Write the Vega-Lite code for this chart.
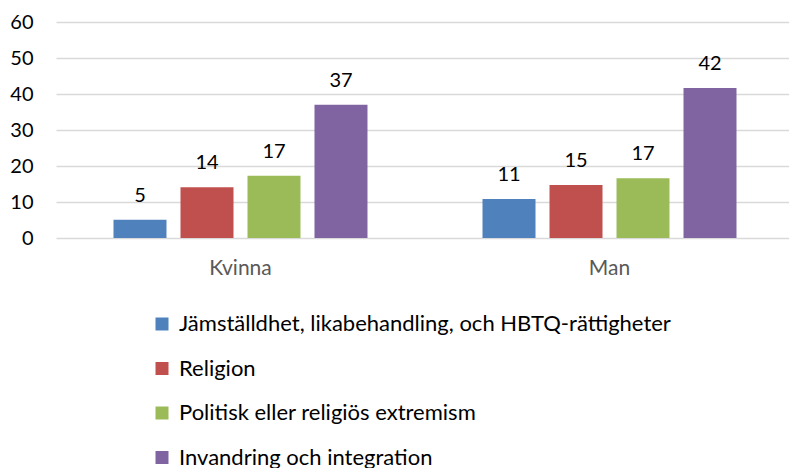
{
  "$schema": "https://vega.github.io/schema/vega-lite/v6.json",
  "width": 738,
  "height": 216,
  "autosize": "none",
  "padding": {"left": 56, "top": 22, "right": 0, "bottom": 230},
  "background": "white",
  "config": {"view": {"stroke": null}, "font": "Lato"},
  "data": {"values": [
    {"kon": "Kvinna", "amne": "Jämställdhet, likabehandling, och HBTQ-rättigheter", "v": 5.1},
    {"kon": "Kvinna", "amne": "Religion", "v": 14.1},
    {"kon": "Kvinna", "amne": "Politisk eller religiös extremism", "v": 17.3},
    {"kon": "Kvinna", "amne": "Invandring och integration", "v": 37.0},
    {"kon": "Man", "amne": "Jämställdhet, likabehandling, och HBTQ-rättigheter", "v": 10.8},
    {"kon": "Man", "amne": "Religion", "v": 14.7},
    {"kon": "Man", "amne": "Politisk eller religiös extremism", "v": 16.6},
    {"kon": "Man", "amne": "Invandring och integration", "v": 41.7}
  ]},
  "encoding": {
    "x": {"field": "kon", "type": "nominal", "sort": ["Kvinna", "Man"],
      "scale": {"paddingInner": 0.3117, "paddingOuter": 0.1558},
      "axis": {"title": null, "labelAngle": 0, "domain": false, "ticks": false, "labelPadding": 19, "labelFontSize": 21, "labelColor": "#595959", "labelFont": "Lato"}},
    "xOffset": {"field": "amne", "type": "nominal",
      "sort": ["Jämställdhet, likabehandling, och HBTQ-rättigheter", "Religion", "Politisk eller religiös extremism", "Invandring och integration"],
      "scale": {"paddingInner": 0.209, "paddingOuter": 0}},
    "y": {"field": "v", "type": "quantitative",
      "scale": {"domain": [0, 60], "nice": false},
      "axis": {"title": null, "values": [0, 10, 20, 30, 40, 50, 60], "labelOverlap": false, "domain": false, "ticks": false, "labelPadding": 23, "labelFontSize": 20, "labelColor": "#000000", "gridColor": "#d9d9d9", "gridWidth": 1.5}}
  },
  "layer": [
    {
      "mark": {"type": "bar"},
      "encoding": {
        "color": {"field": "amne", "type": "nominal",
          "sort": ["Jämställdhet, likabehandling, och HBTQ-rättigheter", "Religion", "Politisk eller religiös extremism", "Invandring och integration"],
          "scale": {"range": ["#4f81bd", "#c0504d", "#9bbb59", "#8064a2"]},
          "legend": {"title": null, "orient": "none", "legendX": 95, "legendY": 291, "direction": "vertical",
            "symbolType": "square", "symbolSize": 169, "symbolStrokeWidth": 0, "symbolOpacity": 1,
            "labelFontSize": 22, "labelColor": "#000000", "labelFont": "Lato", "labelLimit": 700, "rowPadding": 22.5, "labelOffset": 6}}
      }
    },
    {
      "mark": {"type": "text", "baseline": "alphabetic", "dy": -18, "fontSize": 20, "color": "#000000"},
      "encoding": {"text": {"field": "v", "type": "quantitative", "format": ".0f"}}
    }
  ]
}
